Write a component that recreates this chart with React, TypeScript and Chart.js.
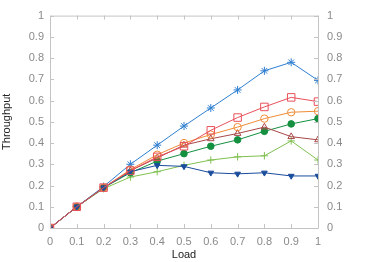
import React, { useEffect, useRef } from "react";
import { Chart, registerables } from "chart.js";

Chart.register(...registerables);

const loads = [0, 0.1, 0.2, 0.3, 0.4, 0.5, 0.6, 0.7, 0.8, 0.9, 1];
const starBlue = [0, 0.1, 0.195, 0.3, 0.39, 0.48, 0.565, 0.65, 0.74, 0.78, 0.695];
const squareRed = [0, 0.1, 0.19, 0.27, 0.335, 0.385, 0.46, 0.52, 0.57, 0.615, 0.595];
const circleOrange = [0, 0.1, 0.19, 0.275, 0.345, 0.4, 0.44, 0.475, 0.515, 0.545, 0.55];
const triangleDarkRed = [0, 0.1, 0.19, 0.27, 0.33, 0.39, 0.42, 0.445, 0.475, 0.43, 0.415];
const dotGreen = [0, 0.1, 0.19, 0.26, 0.315, 0.35, 0.385, 0.415, 0.455, 0.49, 0.515];
const plusLightGreen = [0, 0.1, 0.185, 0.24, 0.265, 0.295, 0.32, 0.335, 0.34, 0.41, 0.32];
const downNavy = [0, 0.1, 0.19, 0.265, 0.295, 0.29, 0.26, 0.255, 0.26, 0.245, 0.245];
const yTicks = [0, 0.1, 0.2, 0.3, 0.4, 0.5, 0.6, 0.7, 0.8, 0.9, 1];

const AXIS_COLOR = "#c4c4c4";
const TICK_TEXT = "#8a8a8a";
const FONT = "'Liberation Sans', Arial, sans-serif";

function ds(label: string, data: number[], color: string, style: any, filled: boolean, order: number, radius = 3.5, rotation = 0) {
  return {
    label,
    data: data.map((y, i) => ({ x: loads[i], y })),
    borderColor: color,
    backgroundColor: filled ? color : "rgba(255,255,255,0)",
    pointBorderColor: color,
    pointBackgroundColor: filled ? color : "rgba(255,255,255,0)",
    pointStyle: style,
    pointRotation: rotation,
    pointRadius: radius,
    pointBorderWidth: 1,
    borderWidth: 1,
    fill: false,
    tension: 0,
    order,
  };
}

const boxPlugin = {
  id: "boxPlugin",
  afterDraw(chart: any) {
    const { ctx, chartArea } = chart;
    const { left, right, top, bottom } = chartArea;
    ctx.save();
    ctx.strokeStyle = AXIS_COLOR;
    ctx.lineWidth = 1;
    ctx.beginPath();
    ctx.rect(left + 0.5, top + 0.5, right - left, bottom - top);
    ctx.stroke();
    const ys = chart.scales.y;
    const xs = chart.scales.x;
    ctx.beginPath();
    for (const v of yTicks) {
      const py = Math.round(ys.getPixelForValue(v)) + 0.5;
      ctx.moveTo(left, py);
      ctx.lineTo(left + 4, py);
      ctx.moveTo(right, py);
      ctx.lineTo(right - 4, py);
    }
    for (const v of loads) {
      const px = Math.round(xs.getPixelForValue(v)) + 0.5;
      ctx.moveTo(px, bottom);
      ctx.lineTo(px, bottom - 4);
      ctx.moveTo(px, top);
      ctx.lineTo(px, top + 4);
    }
    ctx.stroke();
    ctx.restore();
  },
};

export default function App() {
  const ref = useRef<HTMLCanvasElement>(null);
  useEffect(() => {
    if (!ref.current) return;
    const tickFont = { family: FONT, size: 11 };
    const chart = new Chart(ref.current, {
      type: "line",
      data: {
        datasets: [
          ds("A", starBlue, "#2f7fd0", "star", false, 7, 4),
          ds("B", squareRed, "#e8505a", "rect", false, 1, 5.3),
          ds("C", circleOrange, "#f08c38", "circle", false, 3, 3.7),
          ds("D", triangleDarkRed, "#a84848", "triangle", false, 4, 3.8),
          ds("E", dotGreen, "#159040", "circle", true, 5, 3.3),
          ds("F", plusLightGreen, "#80c050", "cross", false, 6, 3.7),
          ds("G", downNavy, "#1a4c9c", "triangle", true, 2, 3.3, 180),
        ],
      },
      options: {
        animation: false,
        responsive: false,
        maintainAspectRatio: false,
        layout: { padding: { top: 12, right: 0, left: 0, bottom: 0 } },
        plugins: { legend: { display: false }, tooltip: { enabled: false } },
        scales: {
          x: {
            type: "linear",
            min: 0,
            max: 1,
            grid: { display: false, drawTicks: false },
            border: { display: false },
            ticks: {
              stepSize: 0.1,
              color: TICK_TEXT,
              font: tickFont,
              padding: 7,
              callback: (v: any) => String(Math.round(Number(v) * 10) / 10),
            },
            title: { display: true, text: "Load", color: "#222", font: { family: FONT, size: 11 }, padding: { top: 2, bottom: 0 } },
            afterFit: (s: any) => { s.height = 34; },
          },
          y: {
            type: "linear",
            position: "left",
            min: 0,
            max: 1,
            grid: { display: false, drawTicks: false },
            border: { display: false },
            ticks: {
              stepSize: 0.1,
              color: TICK_TEXT,
              font: tickFont,
              padding: 6,
              callback: (v: any) => String(Math.round(Number(v) * 10) / 10),
            },
            title: { display: true, text: "Throughput", color: "#222", font: { family: FONT, size: 11 }, padding: { top: 0, bottom: 2 } },
            afterFit: (s: any) => { s.width = 50; },
          },
          y2: {
            type: "linear",
            position: "right",
            min: 0,
            max: 1,
            grid: { display: false, drawTicks: false },
            border: { display: false },
            ticks: {
              stepSize: 0.1,
              color: TICK_TEXT,
              font: tickFont,
              padding: 9,
              callback: (v: any) => String(Math.round(Number(v) * 10) / 10),
            },
            afterFit: (s: any) => { s.width = 56; },
          },
        },
      },
      plugins: [boxPlugin],
    } as any);
    return () => chart.destroy();
  }, []);
  return (
    <div style={{ position: "absolute", left: 0, top: 0, width: 374, height: 262, background: "#fff" }}>
      <canvas ref={ref} width={374} height={262} style={{ width: 374, height: 262 }} />
    </div>
  );
}
